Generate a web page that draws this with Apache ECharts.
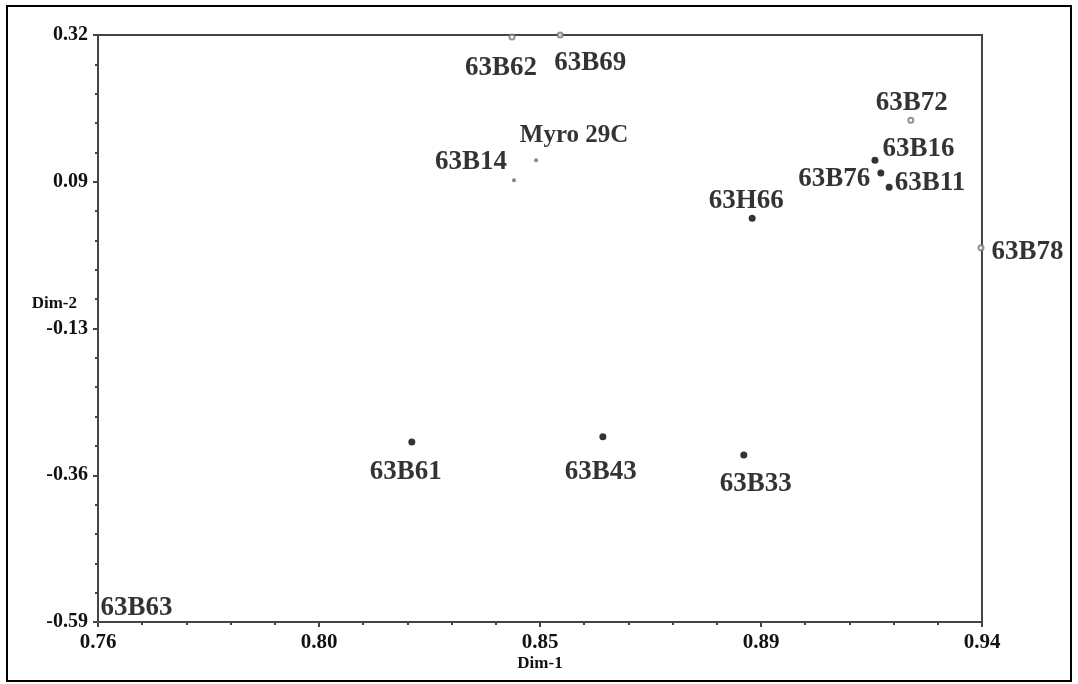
<!DOCTYPE html>
<html>
<head>
<meta charset="utf-8">
<script src="https://cdn.jsdelivr.net/npm/echarts@6/dist/echarts.min.js"></script>
<style>
html,body{margin:0;padding:0;background:#fff;}
#chart{width:1078px;height:684px;}
</style>
</head>
<body>
<div id="chart"></div>
<script>
// ---- data ----
var filledNames = ['63B61', '63B43', '63B33', '63H66', '63B16', '63B76', '63B11'];
var filledDim1  = [0.8239, 0.8628, 0.8915, 0.8932, 0.9182, 0.9194, 0.9211];
var filledDim2  = [-0.311, -0.303, -0.331, 0.036, 0.126, 0.106, 0.084];

var openNames = ['63B62', '63B69', '63B72', '63B78'];
var openDim1  = [0.8443, 0.8541, 0.9255, 0.9398];
var openDim2  = [0.317, 0.320, 0.188, -0.010];

var smallNames = ['Myro 29C', '63B14'];
var smallDim1  = [0.8492, 0.8447];
var smallDim2  = [0.126, 0.095];

var cornerNames = ['63B63'];
var cornerDim1  = [0.76];
var cornerDim2  = [-0.59];

var xTickLabels = ['0.76', '0.80', '0.85', '0.89', '0.94'];
var yTickLabels = ['-0.59', '-0.36', '-0.13', '0.09', '0.32'];
var xMin = 0.76, xMax = 0.94, yMin = -0.59, yMax = 0.32;

// ---- label placement (layout, not data) ----
var labelLayout = {
  '63B62': {position: 'bottom', offset: [-11, 9]},
  '63B69': {position: 'bottom', offset: [30, 6]},
  'Myro 29C': {position: 'top', offset: [38, -5], fontSize: 25},
  '63B14': {position: 'left', offset: [0, -18]},
  '63B72': {position: 'top', offset: [1, 5]},
  '63B16': {position: 'right', offset: [-1, -11]},
  '63B76': {position: 'left', offset: [-2, 6]},
  '63B11': {position: 'right', offset: [-3, -4]},
  '63H66': {position: 'top', offset: [-6, 5]},
  '63B78': {position: 'right', offset: [2, 4]},
  '63B61': {position: 'bottom', offset: [-6, 8]},
  '63B43': {position: 'bottom', offset: [-2, 13]},
  '63B33': {position: 'bottom', offset: [12, 7]},
  '63B63': {position: 'right', offset: [-3, -14]}
};

var FONT = '"Liberation Serif", "Times New Roman", serif';

function build(names, xs, ys) {
  return names.map(function (n, i) {
    var l = labelLayout[n] || {};
    return {
      name: n, value: [xs[i], ys[i]],
      label: {position: l.position, offset: l.offset, fontSize: l.fontSize || 27, color: '#000'}
    };
  });
}

var baseLabel = {show: true, formatter: '{b}', fontFamily: FONT, fontWeight: 'bold', fontSize: 27, color: '#000', distance: 5};

var axisCommon = {
  nameMoveOverlap: false,
  axisLine: {show: true, onZero: false, lineStyle: {color: '#444', width: 2}},
  axisTick: {show: true, length: 5, lineStyle: {color: '#444', width: 2}},
  minorTick: {show: true, splitNumber: 5, length: 3, lineStyle: {color: '#444', width: 2}},
  splitLine: {show: false}
};

var chart = echarts.init(document.getElementById('chart'), null, {renderer: 'canvas'});
chart.setOption({
  backgroundColor: '#fff',
  animation: false,
  graphic: [{
    type: 'rect', shape: {x: 7, y: 6, width: 1064, height: 675},
    style: {fill: 'none', stroke: '#000', lineWidth: 2}, silent: true, z: 0
  }],
  grid: {
    left: 98, right: 96, top: 35, bottom: 62, containLabel: false, outerBoundsMode: 'none',
    show: true, borderColor: '#444', borderWidth: 2, backgroundColor: 'transparent'
  },
  xAxis: Object.assign({
    type: 'value', min: xMin, max: xMax, interval: (xMax - xMin) / 4,
    name: 'Dim-1', nameLocation: 'middle', nameGap: 33,
    nameTextStyle: {fontFamily: FONT, fontWeight: 'bold', fontSize: 17, color: '#111'},
    axisLabel: {
      margin: 10, fontFamily: FONT, fontWeight: 'bold', fontSize: 21, color: '#111',
      formatter: function (v) { return xTickLabels[Math.round((v - xMin) / ((xMax - xMin) / 4))] || ''; }
    }
  }, axisCommon),
  yAxis: Object.assign({
    type: 'value', min: yMin, max: yMax, interval: (yMax - yMin) / 4,
    name: 'Dim-2', nameLocation: 'middle', nameGap: 21, nameRotate: 0,
    nameTextStyle: {fontFamily: FONT, fontWeight: 'bold', fontSize: 17, color: '#111', align: 'right', verticalAlign: 'bottom', lineHeight: 50},
    axisLabel: {
      margin: 10, fontFamily: FONT, fontWeight: 'bold', fontSize: 20, color: '#111',
      formatter: function (v) { return yTickLabels[Math.round((v - yMin) / ((yMax - yMin) / 4))] || ''; }
    }
  }, axisCommon),
  series: [
    {
      name: 'filled', type: 'scatter', symbol: 'circle', symbolSize: 7,
      itemStyle: {color: '#000'}, label: baseLabel,
      data: build(filledNames, filledDim1, filledDim2)
    },
    {
      name: 'open', type: 'scatter', symbol: 'emptyCircle', symbolSize: 5,
      itemStyle: {color: '#777', borderColor: '#777', borderWidth: 1}, label: baseLabel,
      data: build(openNames, openDim1, openDim2)
    },
    {
      name: 'small', type: 'scatter', symbol: 'circle', symbolSize: 4,
      itemStyle: {color: '#666'}, label: baseLabel,
      data: build(smallNames, smallDim1, smallDim2)
    },
    {
      name: 'corner', type: 'scatter', symbol: 'circle', symbolSize: 1,
      itemStyle: {color: '#aaa'}, label: baseLabel,
      data: build(cornerNames, cornerDim1, cornerDim2)
    }
  ]
});
</script>
</body>
</html>
